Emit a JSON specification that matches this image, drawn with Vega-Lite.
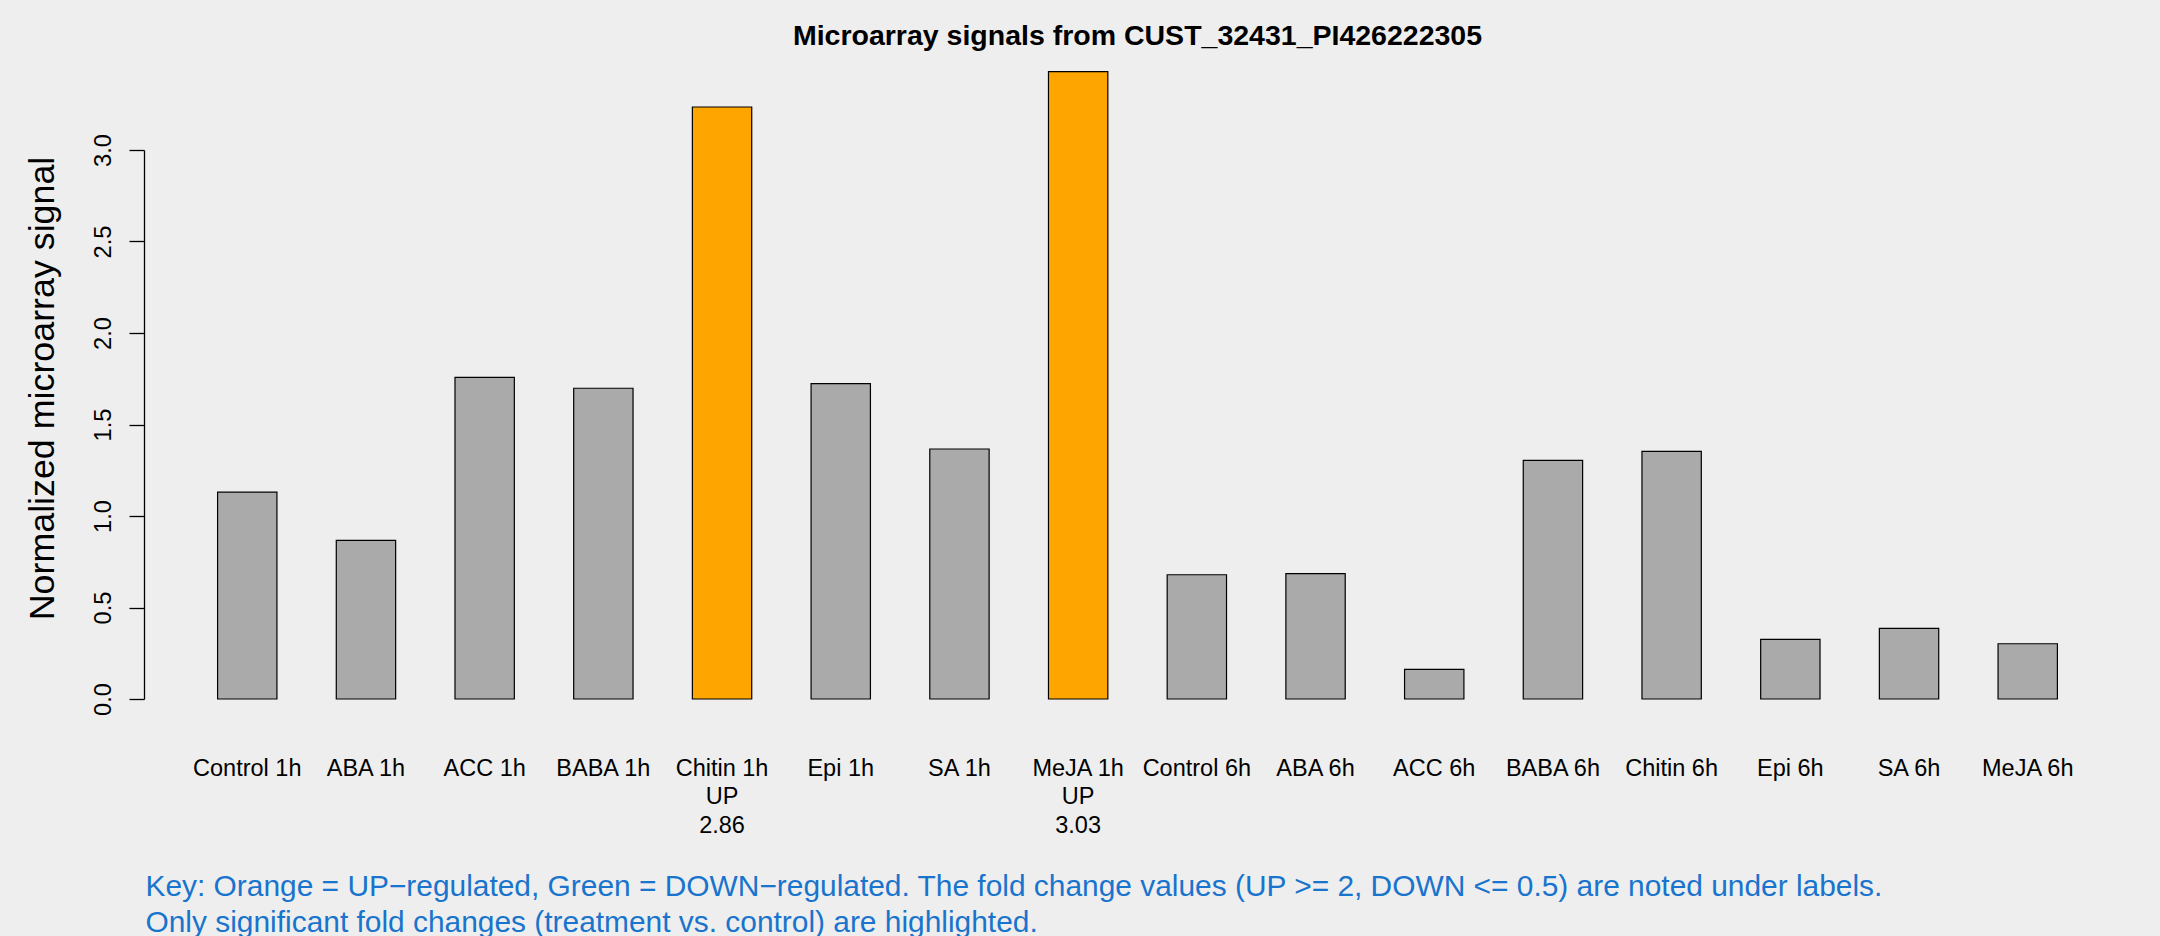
{
  "$schema": "https://vega.github.io/schema/vega-lite/v6.json",
  "width": 1987,
  "height": 549,
  "autosize": {"type": "none"},
  "padding": {"left": 144, "top": 150, "right": 29, "bottom": 237},
  "background": "#EEEEEE",
  "config": {
    "view": {"stroke": null},
    "font": "Liberation Sans"
  },
  "title": {
    "text": "Microarray signals from CUST_32431_PI426222305",
    "fontSize": 28.5,
    "fontWeight": "bold",
    "font": "Liberation Sans",
    "color": "#000000",
    "anchor": "middle",
    "baseline": "alphabetic",
    "offset": -2
  },
  "data": {
    "values": [
      {"sample": "Control 1h", "signal": 1.130, "status": "none"},
      {"sample": "ABA 1h", "signal": 0.867, "status": "none"},
      {"sample": "ACC 1h", "signal": 1.758, "status": "none"},
      {"sample": "BABA 1h", "signal": 1.698, "status": "none"},
      {"sample": "Chitin 1h\nUP\n2.86", "signal": 3.235, "status": "UP"},
      {"sample": "Epi 1h", "signal": 1.723, "status": "none"},
      {"sample": "SA 1h", "signal": 1.366, "status": "none"},
      {"sample": "MeJA 1h\nUP\n3.03", "signal": 3.428, "status": "UP"},
      {"sample": "Control 6h", "signal": 0.679, "status": "none"},
      {"sample": "ABA 6h", "signal": 0.685, "status": "none"},
      {"sample": "ACC 6h", "signal": 0.162, "status": "none"},
      {"sample": "BABA 6h", "signal": 1.304, "status": "none"},
      {"sample": "Chitin 6h", "signal": 1.353, "status": "none"},
      {"sample": "Epi 6h", "signal": 0.326, "status": "none"},
      {"sample": "SA 6h", "signal": 0.386, "status": "none"},
      {"sample": "MeJA 6h", "signal": 0.302, "status": "none"}
    ]
  },
  "mark": {"type": "bar", "stroke": "#000000", "strokeWidth": 1.2, "clip": false},
  "encoding": {
    "x": {
      "field": "sample",
      "type": "nominal",
      "sort": null,
      "scale": {"paddingInner": 0.5, "paddingOuter": 0.62},
      "axis": {
        "labelExpr": "split(datum.label, '\\n')",
        "labelAngle": 0,
        "labelFontSize": 23.5,
        "labelLineHeight": 28.5,
        "labelBaseline": "alphabetic",
        "labelAlign": "center",
        "labelColor": "#000000",
        "labelPadding": 76,
        "labelFont": "Liberation Sans",
        "ticks": false,
        "tickSize": 0,
        "domain": false,
        "grid": false,
        "title": [
          "Key: Orange = UP\u2212regulated, Green = DOWN\u2212regulated. The fold change values (UP >= 2, DOWN <= 0.5) are noted under labels.",
          "Only significant fold changes (treatment vs. control) are highlighted."
        ],
        "titleFont": "Liberation Sans",
        "titleFontSize": 29.9,
        "titleFontWeight": "normal",
        "titleColor": "#1874CD",
        "titleAnchor": "start",
        "titleAlign": "left",
        "titleBaseline": "alphabetic",
        "titleLineHeight": 36,
        "titleX": 1,
        "titleY": 196
      }
    },
    "y": {
      "field": "signal",
      "type": "quantitative",
      "scale": {"domain": [0, 3], "nice": false, "zero": true},
      "axis": {
        "values": [0, 0.5, 1, 1.5, 2, 2.5, 3],
        "format": ".1f",
        "labelAngle": 270,
        "labelAlign": "center",
        "labelBaseline": "alphabetic",
        "labelFontSize": 23.7,
        "labelFont": "Liberation Sans",
        "labelColor": "#000000",
        "labelPadding": 19,
        "tickSize": 15,
        "tickColor": "#000000",
        "tickWidth": 1.3,
        "domainColor": "#000000",
        "domainWidth": 1.3,
        "grid": false,
        "title": "Normalized microarray signal",
        "titleFont": "Liberation Sans",
        "titleFontSize": 35.8,
        "titleFontWeight": "normal",
        "titleColor": "#000000",
        "titleAngle": 270,
        "titleAlign": "center",
        "titleBaseline": "alphabetic",
        "titleX": -91,
        "titleY": 238
      }
    },
    "color": {
      "field": "status",
      "type": "nominal",
      "scale": {"domain": ["none", "UP", "DOWN"], "range": ["#AAAAAA", "#FFA500", "#00A000"]},
      "legend": null
    }
  }
}
